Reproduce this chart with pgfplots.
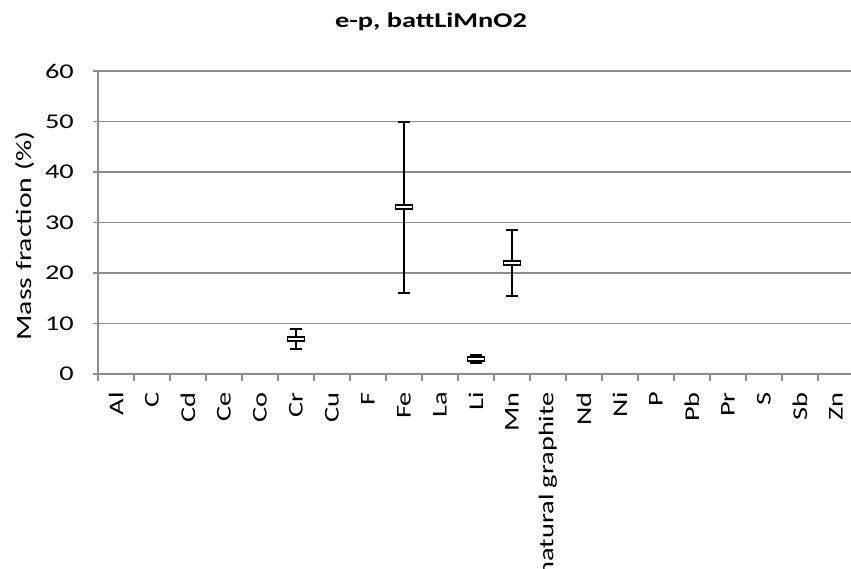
\documentclass[border=0pt]{standalone}
\usepackage{fontspec}
\setmainfont{Carlito}[FakeStretch=1.35]
\usepackage{pgfplots}
\pgfplotsset{compat=1.18}
\definecolor{gridgray}{HTML}{8C8C8C}
\pgfdeclareplotmark{hbox}{%
  \pgfpathrectangle{\pgfpoint{-8.5pt}{-2pt}}{\pgfpoint{17pt}{4pt}}%
  \pgfusepathqfillstroke}
\newcommand\fs{\fontsize{21}{25}\selectfont}

\pgfplotstableread{
x  y   ep   em
5  7   2    2
8  33  17   17
10 3   0.8  0.9
11 22  6.5  6.5
}\datatable

\begin{document}
\begin{tikzpicture}
\useasboundingbox (-98pt,-194pt) rectangle (753pt,374pt);
\clip (-98pt,-194pt) rectangle (753pt,374pt);
\begin{axis}[
  at={(0,0)}, anchor=south west,
  scale only axis,
  width=756pt, height=303pt,
  xmin=-0.5, xmax=20.5,
  ymin=0, ymax=60,
  clip=false,
  axis lines=left,
  axis line style={-, draw=gridgray, line width=1.5pt},
  ytick={0,10,...,60},
  ymajorgrids,
  major grid style={draw=gridgray, line width=1.5pt},
  xtick={0,...,20},
  xticklabels={Al,C,Cd,Ce,Co,Cr,Cu,F,Fe,La,Li,Mn,natural graphite,Nd,Ni,P,Pb,Pr,S,Sb,Zn},
  minor xtick={-0.5,0.5,...,20.5},
  major x tick style={draw=none},
  minor x tick style={draw=gridgray, line width=1.5pt},
  major y tick style={draw=gridgray, line width=1.5pt},
  tick align=outside,
  major tick length=5pt,
  minor tick length=7pt,
  yticklabel style={font=\fs, anchor=east, inner sep=0pt, xshift=-19pt},
  xticklabel style={font=\fs, rotate=90, anchor=east, inner sep=0pt, xshift=-13pt},
  /pgf/number format/assume math mode=true,
]
\addplot[draw=none, mark=none,
  error bars/.cd, y dir=both, y explicit,
  error bar style={line width=2pt, black},
  error mark options={rotate=90, mark size=6pt, line width=2pt, black}]
  table[x=x, y=y, y error plus=ep, y error minus=em] {\datatable};
\addplot[only marks, mark=hbox, mark options={fill=white, draw=black, line width=1.8pt}]
  table[x=x, y=y] {\datatable};
\end{axis}
\node[font=\fs\bfseries, anchor=base, inner sep=0pt] at (333pt,346pt) {e-p, battLiMnO2};
\node[font=\fontsize{22}{26}\selectfont, rotate=90, anchor=base, inner sep=0pt] at (-66pt,138pt) {Mass fraction (\%)};
\end{tikzpicture}
\end{document}
